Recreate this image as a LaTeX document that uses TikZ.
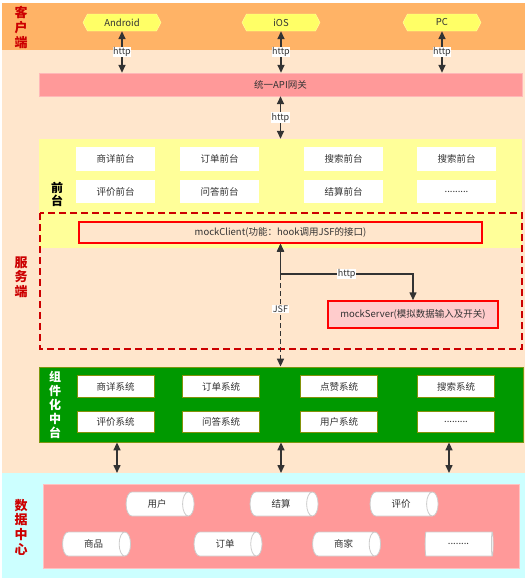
\documentclass[tikz,border=0pt]{standalone}
\usepackage{fontspec}
\setmainfont{Noto Sans CJK SC}
\usetikzlibrary{arrows.meta,shapes.symbols,shapes.geometric}

\definecolor{clientbg}{HTML}{FFB366}
\definecolor{serverbg}{HTML}{FFE6CC}
\definecolor{databg}{HTML}{CCFFFF}
\definecolor{pinkbox}{HTML}{FF9999}
\definecolor{frontbg}{HTML}{FFFF99}
\definecolor{hexfill}{HTML}{FFFF66}
\definecolor{greenbg}{HTML}{009900}
\definecolor{labelred}{HTML}{CC0000}
\definecolor{txt}{HTML}{333333}

\begin{document}
\begin{tikzpicture}[x=1pt,y=-1pt,
    every node/.style={font=\fontsize{9.5}{10}\selectfont, text=txt, inner sep=0pt},
    band/.style={draw=none, minimum width=523, anchor=north west},
    sidelabel/.style={font=\fontsize{13}{14.7}\selectfont\bfseries, text=labelred, align=center},
    hexnode/.style={signal, signal to=east and west, signal pointer angle=125, fill=hexfill, draw=hexfill!60!white, minimum width=78, minimum height=17},
    whitebox/.style={fill=white, minimum width=79, minimum height=23.5},
    sysbox/.style={fill=white, draw=olive!80!green, line width=0.8pt, minimum width=77, minimum height=21.5},
    store/.style={cylinder, shape aspect=1.3, fill=white, draw=gray!40, line width=0.8pt, minimum height=68, minimum width=24},
    biarrow/.style={draw=txt, line width=1.5pt, {Triangle[length=8pt,width=7pt]}-{Triangle[length=8pt,width=7pt]}},
    lbl/.style={fill=white, font=\fontsize{9}{10}\selectfont, inner sep=0.5pt},
  ]
    \useasboundingbox (0,0) rectangle (529,581);

    % bands
    \node[band, fill=clientbg, minimum height=47] (clientzone) at (2,3) {};
    \node[band, fill=serverbg, minimum height=423] (serverzone) at (2,50) {};
    \node[band, fill=databg, minimum height=105] (datazone) at (2,473) {};

    \node[sidelabel] (clientlabel) at (21,27.5) {客\\户\\端};
    \node[sidelabel] (serverlabel) at (21,277) {服\\务\\端};
    \node[sidelabel] (datalabel) at (21,527) {数\\据\\中\\心};

    % clients
    \node[hexnode] (android) at (122,22.5) {Android};
    \node[hexnode] (ios) at (281,22.5) {iOS};
    \node[hexnode] (pc) at (442,22.5) {PC};

    % gateway
    \node[fill=pinkbox, draw=pinkbox!70!white, minimum width=483, minimum height=23] (gateway) at (280.5,84.5) {统一API网关};

    \draw[biarrow] (android.south) -- (android.south |- gateway.north) node[midway,lbl]{http};
    \draw[biarrow] (ios.south) -- (ios.south |- gateway.north) node[midway,lbl]{http};
    \draw[biarrow] (pc.south) -- (pc.south |- gateway.north) node[midway,lbl]{http};

    % front desks
    \node[fill=frontbg, minimum width=483, minimum height=109] (front) at (280.5,193.5) {};
    \node[font=\fontsize{12}{13}\selectfont\bfseries, text=black, align=center] (frontlabel) at (57,194.5) {前\\台};
    \draw[biarrow] (gateway.south) -- (gateway.south |- front.north) node[midway,lbl]{http};

    \node[whitebox] (fdetail) at (115.5,159) {商详前台};
    \node[whitebox] (forder) at (219.5,159) {订单前台};
    \node[whitebox] (fsearch) at (343.5,159) {搜索前台};
    \node[whitebox] (fsearchb) at (456.5,159) {搜索前台};
    \node[whitebox] (fcomment) at (115.5,191.5) {评价前台};
    \node[whitebox] (fqa) at (219.5,191.5) {问答前台};
    \node[whitebox] (fpay) at (343.5,191.5) {结算前台};
    \node[whitebox] (fmore) at (456.5,191.5) {.........};

    % mock area
    \draw[labelred, line width=1.5pt, dash pattern=on 7pt off 4pt] (40,213) rectangle (522,349);
    \node[fill=serverbg, draw=red, line width=1.5pt, minimum width=403, minimum height=21] (mockclient) at (280.5,232.5) {mockClient(功能：hook调用JSF的接口)};
    \node[fill=red!20, draw=red, line width=1.5pt, minimum width=170, minimum height=27] (mockserver) at (413,314.5) {mockServer(模拟数据输入及开关)};

    % middle platform
    \node[fill=greenbg, draw=olive!70!green, line width=0.8pt, minimum width=484, minimum height=75] (platform) at (281,404.5) {};
    \node[font=\fontsize{12}{14}\selectfont\bfseries, text=white, align=center] (platformlabel) at (55,405) {组\\件\\化\\中\\台};

    \node[sysbox] (sdetail) at (115.5,386.5) {商详系统};
    \node[sysbox] (sorder) at (221,386.5) {订单系统};
    \node[sysbox] (slike) at (339,386.5) {点赞系统};
    \node[sysbox] (ssearch) at (456,386.5) {搜索系统};
    \node[sysbox] (scomment) at (115.5,422) {评价系统};
    \node[sysbox] (sqa) at (221,422) {问答系统};
    \node[sysbox] (suser) at (339,422) {用户系统};
    \node[sysbox] (smore) at (456,422) {.........};

    \coordinate (split) at (280.5,274);
    \draw[biarrow, dash pattern=on 5pt off 3pt] (mockclient.south) -- (mockclient.south |- platform.north) node[pos=0.53,lbl]{JSF};
    \draw[biarrow] (mockclient.south) -- (split) -| (mockserver.north) node[pos=0.25,lbl]{http};

    \draw[biarrow] ([xshift=-164pt]platform.south) -- ([xshift=-164pt]platform.south |- datazone.north);
    \draw[biarrow] (platform.south) -- (platform.south |- datazone.north);
    \draw[biarrow] ([xshift=168pt]platform.south) -- ([xshift=168pt]platform.south |- datazone.north);

    % data center
    \node[fill=pinkbox, draw=pinkbox!60!white, minimum width=476, minimum height=84] (datastore) at (281,526) {};
    \node[store] (duser) at (157,504) {用户};
    \node[store] (dpay) at (281,504) {结算};
    \node[store] (dcomment) at (401,504) {评价};
    \node[store] (dgoods) at (93.5,544) {商品};
    \node[store] (dorder) at (225,544) {订单};
    \node[store] (dshop) at (343.5,544) {商家};
    \node[store] (dmore) at (458.5,544) {........};
\end{tikzpicture}
\end{document}
